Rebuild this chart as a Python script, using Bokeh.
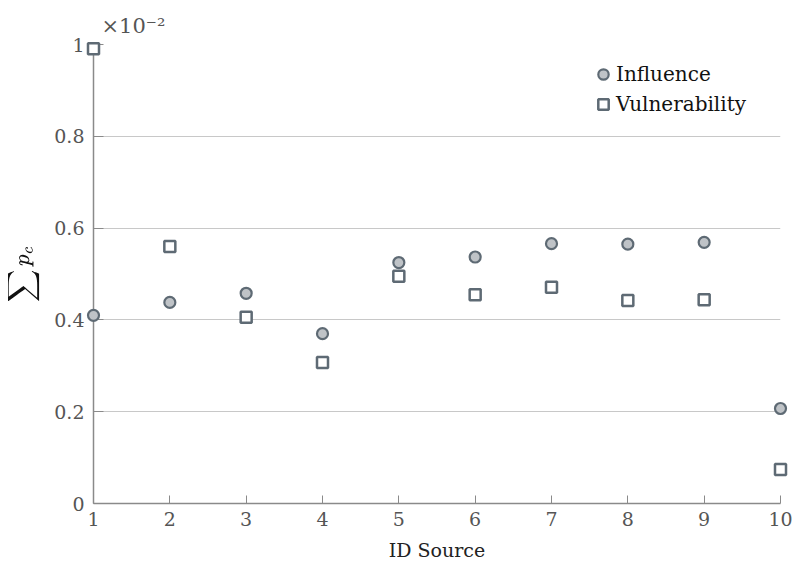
from bokeh.plotting import figure
from bokeh.models import Range1d, FixedTicker, Legend, LegendItem, TeX
from bokeh.embed import file_html
from bokeh.resources import INLINE

# Data: sum of p_c per source (in units of 1e-2)
sources = [1, 2, 3, 4, 5, 6, 7, 8, 9, 10]
influence = [0.410, 0.438, 0.458, 0.370, 0.525, 0.537, 0.566, 0.565, 0.569, 0.207]
vulnerability = [0.991, 0.560, 0.406, 0.307, 0.495, 0.455, 0.471, 0.442, 0.444, 0.074]

x_ticks = [1, 2, 3, 4, 5, 6, 7, 8, 9, 10]
y_ticks = [0, 0.2, 0.4, 0.6, 0.8, 1.0]
y_tick_labels = {0: "0", 0.2: "0.2", 0.4: "0.4", 0.6: "0.6", 0.8: "0.8", 1.0: "1"}
y_scale_note = "×10⁻²"

FONT = "DejaVu Serif"
EDGE = "#5e6a74"
AXIS = "#8a8a8a"
TEXT = "#555555"

p = figure(width=795, height=566, output_backend="svg", toolbar_location=None,
           x_range=Range1d(1, 10), y_range=Range1d(0, 1),
           min_border_left=93, min_border_right=15, min_border_top=44,
           min_border_bottom=63)
p.outline_line_color = None
p.background_fill_color = "white"
p.border_fill_color = "white"

# scale factor of the y values, shown above the top-left corner
p.title.text = y_scale_note
p.title.align = "left"
p.title.offset = 8
p.title.standoff = 14
p.title.text_font = FONT
p.title.text_font_size = "21px"
p.title.text_font_style = "normal"
p.title.text_color = TEXT

# axes
p.xaxis.ticker = FixedTicker(ticks=x_ticks)
p.yaxis.ticker = FixedTicker(ticks=y_ticks)
p.yaxis.major_label_overrides = y_tick_labels
for ax in (p.xaxis[0], p.yaxis[0]):
    ax.axis_line_color = AXIS
    ax.axis_line_width = 1.5
    ax.major_tick_line_color = AXIS
    ax.major_tick_in = 8
    ax.major_tick_out = 0
    ax.minor_tick_line_color = None
    ax.major_label_text_font = FONT
    ax.major_label_text_font_size = "19px"
    ax.major_label_text_color = TEXT
    ax.axis_label_text_font = FONT
    ax.axis_label_text_font_size = "19px"
    ax.axis_label_text_color = "#222222"
    ax.axis_label_text_font_style = "normal"
p.yaxis.major_tick_in = 10
p.xaxis.major_label_standoff = 8
p.yaxis.major_label_standoff = 9
p.xaxis.axis_label = "ID Source"
p.xaxis.axis_label_standoff = 10
p.yaxis.axis_label = TeX(r"\sum p_c")
p.yaxis.axis_label_text_font_size = "18px"
p.yaxis.axis_label_text_color = "#111111"
p.yaxis.axis_label_standoff = 12

p.xgrid.grid_line_color = None
p.ygrid.grid_line_color = "#c8c8c8"
p.ygrid.grid_line_width = 1.2

# markers sit on the annotation level so the ones on the frame edge stay whole
r_inf = p.scatter(sources, influence, marker="circle", size=11,
                  fill_color="#bfc3c7", line_color=EDGE, line_width=2.2,
                  level="annotation")
r_vul = p.scatter(sources, vulnerability, marker="square", size=11,
                  fill_color="white", line_color=EDGE, line_width=2.5,
                  level="annotation")

legend = Legend(items=[LegendItem(label="Influence", renderers=[r_inf]),
                       LegendItem(label="Vulnerability", renderers=[r_vul])],
                location=(497, 386), border_line_color=None,
                background_fill_alpha=0, label_text_font=FONT,
                label_text_font_size="20px", label_text_color="#111111",
                glyph_width=26, glyph_height=26, label_standoff=0, spacing=4,
                margin=0, padding=6)
p.add_layout(legend)

open("out.html", "w").write(file_html(p, INLINE))
